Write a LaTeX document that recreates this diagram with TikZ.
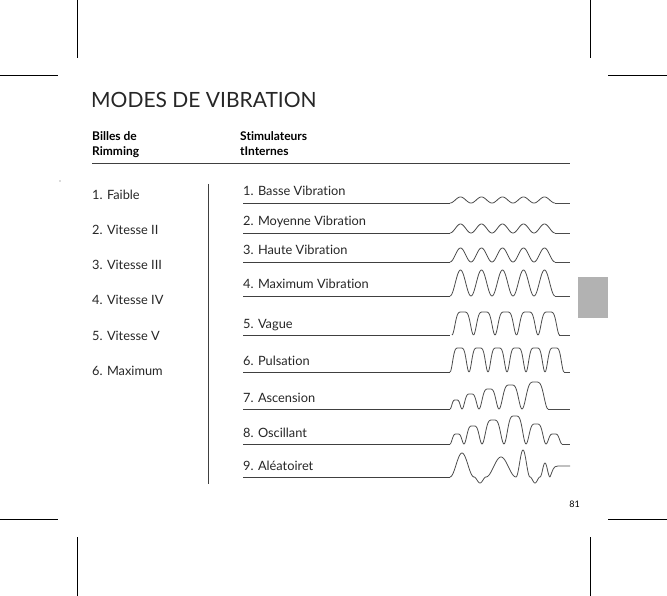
\documentclass[tikz,border=0pt]{standalone}
\usepackage{fontspec}
\setmainfont{Lato}[Ligatures={NoCommon}]
\begin{document}
\begin{tikzpicture}[x=1pt,y=-1pt,
  txt/.style={anchor=base west,inner sep=0,text=black!85,font=\fontsize{12.8}{14}\selectfont},
  hdr/.style={anchor=base west,inner sep=0,font=\bfseries\fontsize{12}{14}\selectfont},
  rule/.style={draw=black!75,line width=0.6pt},
  wave/.style={draw=black!70,line width=0.8pt},
  crop/.style={draw=black,line width=0.6pt}]
\useasboundingbox (0,0) rectangle (667,596);
\newcommand{\hump}[5]{\draw[wave] plot[domain=0:1,samples=30,smooth] ({#2+#3*\x},{#1-#4*(1-(1-(1-cos(360*\x))/2)^#5)});}
% crop marks
\draw[crop] (77,0) -- (77,58) (590,0) -- (590,58) (0,75) -- (58,75) (608,75) -- (667,75);
\draw[crop] (77,537) -- (77,596) (590,537) -- (590,596) (0,519) -- (58,519) (608,519) -- (667,519);
\node[anchor=base west,inner sep=0,font=\fontsize{21}{22}\selectfont,text=black!85] (title) at (91,108) {MODES DE VIBRATION};
\node[hdr] (h1a) at (92,141) {Billes de};
\node[hdr] (h1b) at (92,156) {Rimming};
\node[hdr] (h2a) at (240,141) {Stimulateurs};
\node[hdr] (h2b) at (240,156) {tInternes};
\draw[rule] (92,163) -- (570,163);
\fill[black!60] (60,181) circle (0.6);
\foreach \t [count=\i] in {1. Faible,2. Vitesse II,3. Vitesse III,4. Vitesse IV,5. Vitesse V,6. Maximum}
  \node[txt] (l\i) at (92,{200+35*(\i-1)}) {\t};
\draw[rule] (208,184) -- (208,484);
\foreach \t/\b [count=\i] in {1. Basse Vibration/203,2. Moyenne Vibration/233,3. Haute Vibration/262,4. Maximum Vibration/296,5. Vague/335,6. Pulsation/372,7. Ascension/409,8. Oscillant/444,9. Aléatoiret/477}
  {\node[txt] (r\i) at (243,\b-7) {\t};
   \draw[rule] (243,\b) -- (450,\b);}
% row 1-4 sines
\foreach \s in {0,...,4} {\hump{203}{450+21*\s}{21}{6}{1}}
\draw[wave] (555,203) -- (570,203);
\foreach \s in {0,...,4} {\hump{233}{450+21*\s}{21}{9}{1}}
\draw[wave] (555,233) -- (570,233);
\foreach \s in {0,...,4} {\hump{262}{450+21*\s}{21}{14}{1}}
\draw[wave] (555,262) -- (570,262);
\foreach \s in {0,...,4} {\hump{296}{450+21*\s}{21}{26}{1}}
\draw[wave] (555,296) -- (570,296);
% row 5,6 pulses
\foreach \s in {0,...,4} {\hump{335}{452+21.5*\s}{21.5}{23}{3}}
\draw[wave] (559,335) -- (570,335);
\foreach \s in {0,...,5} {\hump{372}{450+19*\s}{19}{24}{3}}
\draw[wave] (564,372) -- (570,372);
% row 7 ascension
\hump{409}{450}{12}{9}{2.5}\hump{409}{462}{17}{15}{2.5}\hump{409}{479}{20}{20}{2.5}
\hump{409}{499}{23}{24}{2.5}\hump{409}{522}{26}{27}{2.5}
\draw[wave] (548,409) -- (570,409);
% row 8 oscillant
\hump{444}{450}{14}{10}{2.5}\hump{444}{464}{18}{18}{2.5}\hump{444}{482}{22}{24}{2.5}
\hump{444}{504}{22}{28}{2.5}\hump{444}{526}{20}{20}{2.5}\hump{444}{546}{16}{10}{2.5}
\draw[wave] (562,444) -- (570,444);
% row 9 random
\hump{477}{450}{24}{24}{1}\hump{477}{474}{12}{-6}{1}\hump{477}{486}{30}{20}{1}
\hump{477}{516}{14}{27}{1}\hump{477}{530}{10}{-6}{1}\hump{477}{540}{10}{14}{1}
\draw[wave] (550,477) .. controls (553,470) and (553,466) .. (558,466) -- (570,466);
\fill[black!30] (578,277) rectangle (608,318);
\node[anchor=base east,inner sep=0,font=\fontsize{9}{10}\selectfont] (pg) at (580,507) {81};
\end{tikzpicture}
\end{document}
